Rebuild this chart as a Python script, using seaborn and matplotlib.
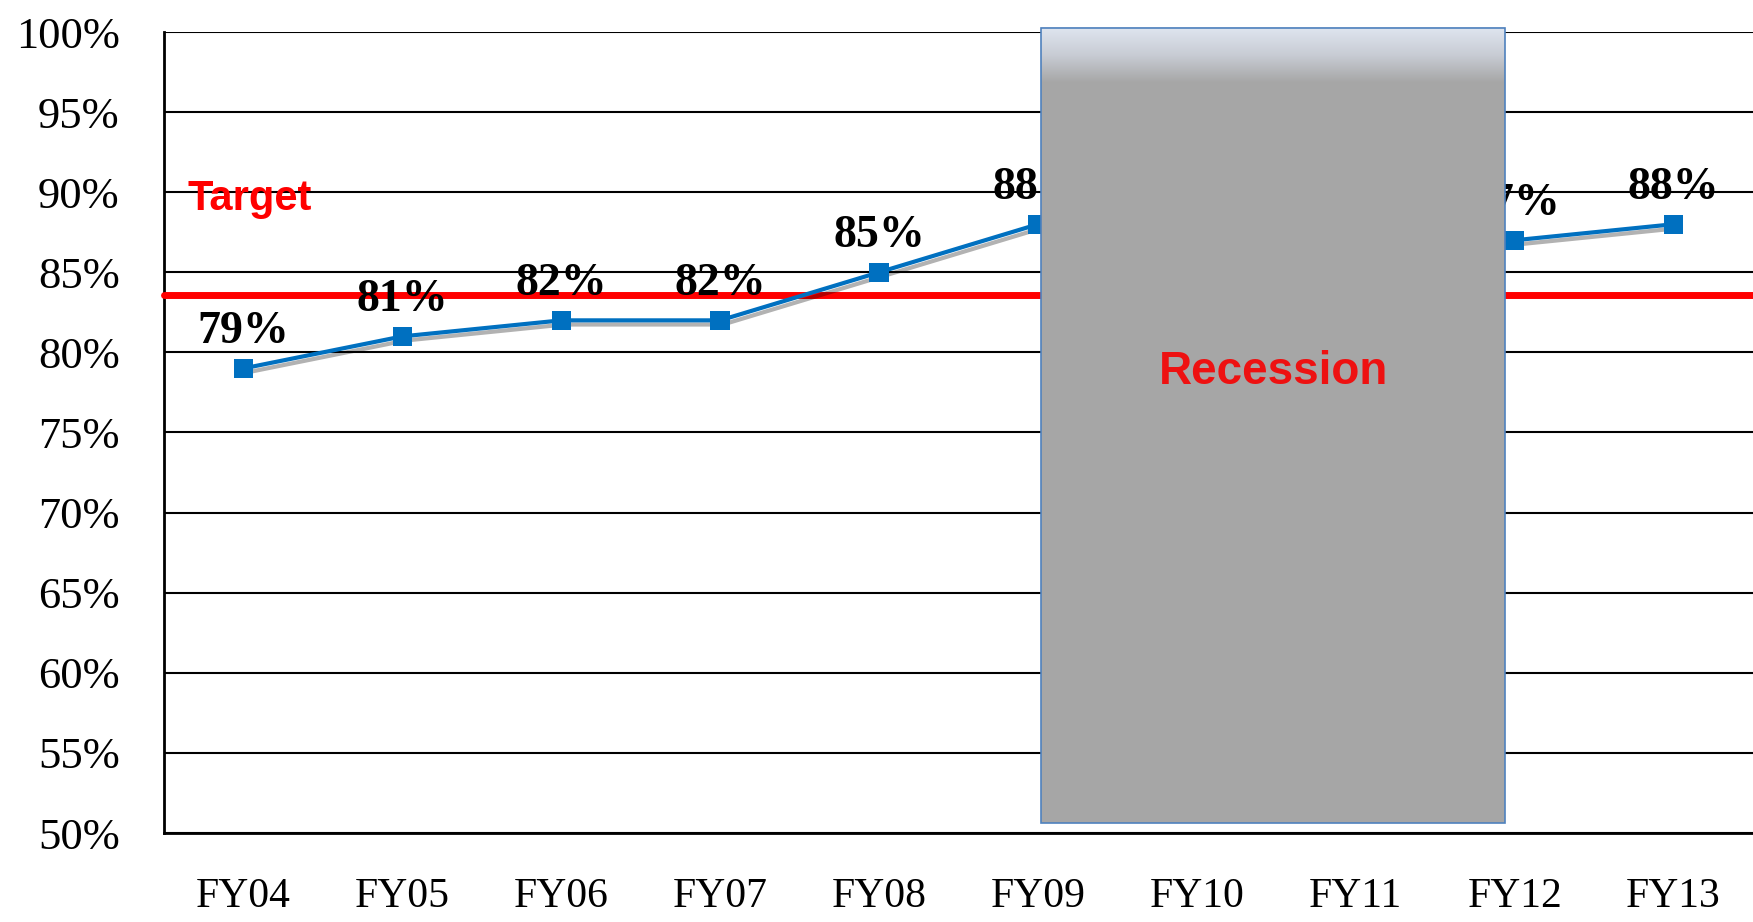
import numpy as np
import pandas as pd
import matplotlib
matplotlib.use('Agg')
import matplotlib.pyplot as plt
import matplotlib.patheffects as pe
from matplotlib.patches import Rectangle
from matplotlib.colors import LinearSegmentedColormap
import seaborn as sns

years = ['FY04', 'FY05', 'FY06', 'FY07', 'FY08', 'FY09', 'FY10', 'FY11', 'FY12', 'FY13']
# FY10 / FY11 sit behind the recession box in the original, values are guesses
rates = [79, 81, 82, 82, 85, 88, 87, 86, 87, 88]
target = 83.6
recession_span = [5.02, 7.94]
yticks = list(range(50, 101, 5))

df = pd.DataFrame({'year': years, 'rate': rates})

sns.set_style('white')
plt.rcParams['font.family'] = ['Liberation Serif', 'DejaVu Serif']
plt.rcParams['text.color'] = 'black'
plt.rcParams['xtick.color'] = 'black'
plt.rcParams['ytick.color'] = 'black'

fig = plt.figure(figsize=(17.53, 9.22), dpi=100)
ax = fig.add_axes([164 / 1753, 89 / 922, 1589 / 1753, 801 / 922])

sns.lineplot(data=df, x='year', y='rate', ax=ax, color='#0070c0', lw=3,
             marker='s', markersize=14, markeredgewidth=0, zorder=4,
             path_effects=[pe.SimpleLineShadow(offset=(2, -3), alpha=0.3, shadow_color='black'),
                           pe.Normal()])

ax.axhline(target, color='#ff0000', lw=5, zorder=3, clip_on=False)

for i, v in enumerate(rates):
    ax.annotate(f'{v}%', (i, v), xytext=(0, 18), textcoords='offset points',
                ha='center', va='baseline', fontsize=33, fontweight='bold',
                color='black', zorder=3)

# recession box
x0, x1 = recession_span
ybot, ytop = 50.6, 100.25
ax.add_patch(Rectangle((x0, ybot), x1 - x0, ytop - ybot, facecolor='#a6a6a6',
                       edgecolor='none', zorder=6, clip_on=False))
grad = LinearSegmentedColormap.from_list('g', ['#dfe5f0', '#c8ccd4', '#a6a6a6'])
ax.imshow(np.linspace(0, 1, 100).reshape(-1, 1), cmap=grad, aspect='auto',
          extent=(x0, x1, 96.8, ytop), zorder=6.5, clip_on=False)
ax.add_patch(Rectangle((x0, ybot), x1 - x0, ytop - ybot, facecolor='none',
                       edgecolor='#4f81bd', lw=1.2, zorder=7, clip_on=False))
ax.text((x0 + x1) / 2, 78.8, 'Recession', color='#ee1111', fontsize=33, fontweight='bold',
        ha='center', va='center', family=['Liberation Sans', 'DejaVu Sans'], zorder=8)

ax.text(-0.35, 89.6, 'Target', color='#ff0000', fontsize=30, fontweight='bold',
        ha='left', va='center', family=['Liberation Sans', 'DejaVu Sans'], zorder=8)

ax.set_xlim(-0.5, 9.5)
ax.set_ylim(50, 100)
ax.set_yticks(yticks)
ax.set_yticklabels([f'{t}%' for t in yticks])
ax.yaxis.grid(True, color='black', lw=1.5)
ax.set_axisbelow(True)
ax.tick_params(axis='y', labelsize=32, pad=32, length=0)
ax.tick_params(axis='x', labelsize=30, pad=32, length=0)
ax.set_xlabel('')
ax.set_ylabel('')
for s in ['top', 'right']:
    ax.spines[s].set_visible(False)
for s in ['left', 'bottom']:
    ax.spines[s].set_color('black')
    ax.spines[s].set_linewidth(2)

fig.savefig('out.png', dpi=100)
